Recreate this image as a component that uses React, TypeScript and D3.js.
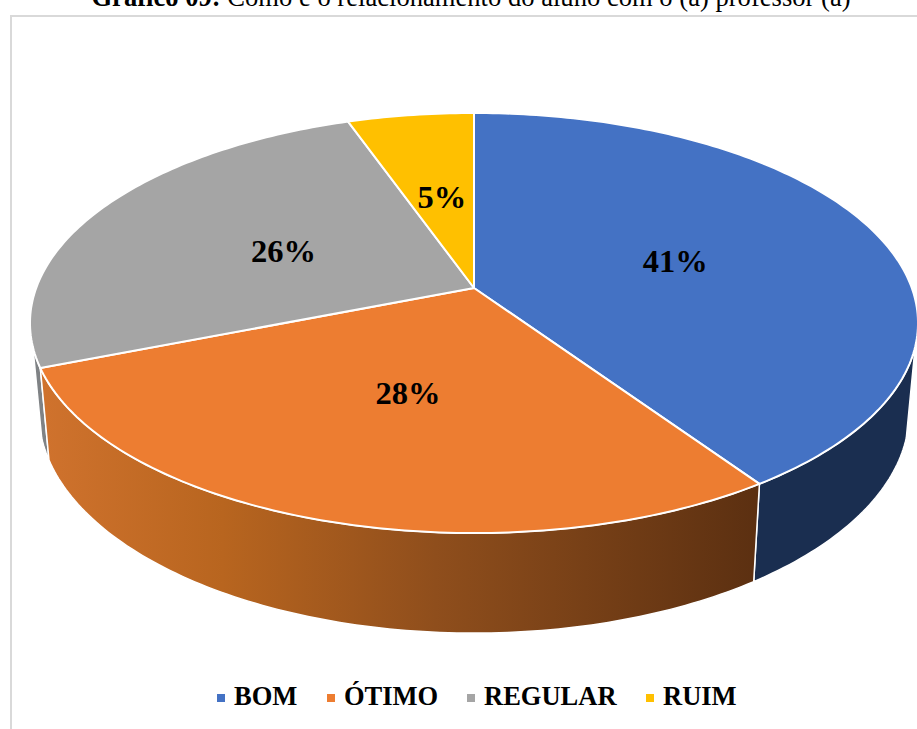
import * as d3 from 'd3';
import React from 'react';

const categories = ['BOM', 'ÓTIMO', 'REGULAR', 'RUIM'];
const shares = [40.5, 28.5, 25.6, 5.4];
const labels = ['41%', '28%', '26%', '5%'];
const colors = ['#4472c4', '#ed7d31', '#a5a5a5', '#ffc000'];

const width = 917;
const height = 729;
const serif = '"Liberation Serif", "Times New Roman", serif';

// perspective of the tilted disc: apex sits above the middle of the rim ellipse
const cx = 474;
const apexY = 288;
const R = 437.8;
const tilt = -0.1667;
const rise = 156.2;

function project(angle: number, r = 1): [number, number] {
    const u = Math.sin(angle) * r;
    const v = -Math.cos(angle) * r;
    const w = 1 + tilt * v;
    return [cx + (R * u) / w, (apexY + rise * v) / w];
}

// rim of the base of the pie, slightly smaller because it is further from the eye
function lower([x, y]: [number, number]): [number, number] {
    return [cx + (x - cx) * 0.98, y + 74.2 + 0.0485 * y];
}

const pie = d3.pie<number>().sort(null).value((d) => d);
const arcs = pie(shares);

const line = d3.line<[number, number]>();

function rim(a0: number, a1: number): [number, number][] {
    const n = Math.max(2, Math.ceil(Math.abs(a1 - a0) * 60));
    return d3.range(n + 1).map((i) => project(a0 + ((a1 - a0) * i) / n));
}

function topPath(a0: number, a1: number): string {
    return line([project(0, 0), ...rim(a0, a1)]) + 'Z';
}

function wallPath(a0: number, a1: number): string {
    const top = rim(a0, a1);
    return line([...top, ...top.map(lower).reverse()]) + 'Z';
}

const deg = (d: number) => (d * Math.PI) / 180;
const walls = [
    { a0: deg(106), a1: arcs[0].endAngle, fill: '#1a2e50' },
    { a0: arcs[2].startAngle, a1: deg(254), fill: '#7f8285' },
    { a0: arcs[1].startAngle, a1: arcs[1].endAngle, fill: 'url(#orangeWall)' },
];

const legendX = [217, 327, 467, 646];
const labelNudge = [[-3, 3], [4, 0], [2, 4], [2, 3]];

export default function App() {
    return (
        <svg
            width={width}
            height={height}
            style={{ position: 'absolute', left: 0, top: 0 }}
        >
            <defs>
                <linearGradient id="orangeWall" gradientUnits="userSpaceOnUse" x1="45" y1="0" x2="755" y2="0">
                    <stop offset="0" stopColor="#cf722d" />
                    <stop offset="0.25" stopColor="#b8651f" />
                    <stop offset="0.55" stopColor="#8f4e1c" />
                    <stop offset="1" stopColor="#5c3011" />
                </linearGradient>
            </defs>

            <text x={471} y={6} textAnchor="middle" fontFamily={serif} fontSize={26.6} fill="#000">
                <tspan fontWeight="bold">Gráfico 09:</tspan> Como é o relacionamento do aluno com o (a) professor (a)
            </text>

            <rect x={11} y={16} width={width + 20} height={height + 20} fill="#fff" stroke="#d9d9d9" strokeWidth={2} />

            {walls.map((w, i) => (
                <path key={i} d={wallPath(w.a0, w.a1)} fill={w.fill} stroke="#fff" strokeWidth={1.5} strokeLinejoin="round" />
            ))}

            {arcs.map((a, i) => (
                <path
                    key={categories[i]}
                    d={topPath(a.startAngle, a.endAngle)}
                    fill={colors[i]}
                    stroke="#fff"
                    strokeWidth={2}
                    strokeLinejoin="round"
                />
            ))}

            {arcs.map((a, i) => {
                const [x, y] = project((a.startAngle + a.endAngle) / 2, 0.5);
                return (
                    <text
                        key={labels[i]}
                        x={x + labelNudge[i][0]}
                        y={y + labelNudge[i][1]}
                        dy="0.32em"
                        textAnchor="middle"
                        fontFamily={serif}
                        fontWeight="bold"
                        fontSize={32.5}
                        fill="#000"
                    >
                        {labels[i]}
                    </text>
                );
            })}

            {categories.map((c, i) => (
                <g key={c}>
                    <rect x={legendX[i]} y={694} width={8} height={8} fill={colors[i]} />
                    <text
                        x={legendX[i] + 17}
                        y={705}
                        fontFamily={serif}
                        fontWeight="bold"
                        fontSize={26.5}
                        fill="#000"
                    >
                        {c}
                    </text>
                </g>
            ))}
        </svg>
    );
}
